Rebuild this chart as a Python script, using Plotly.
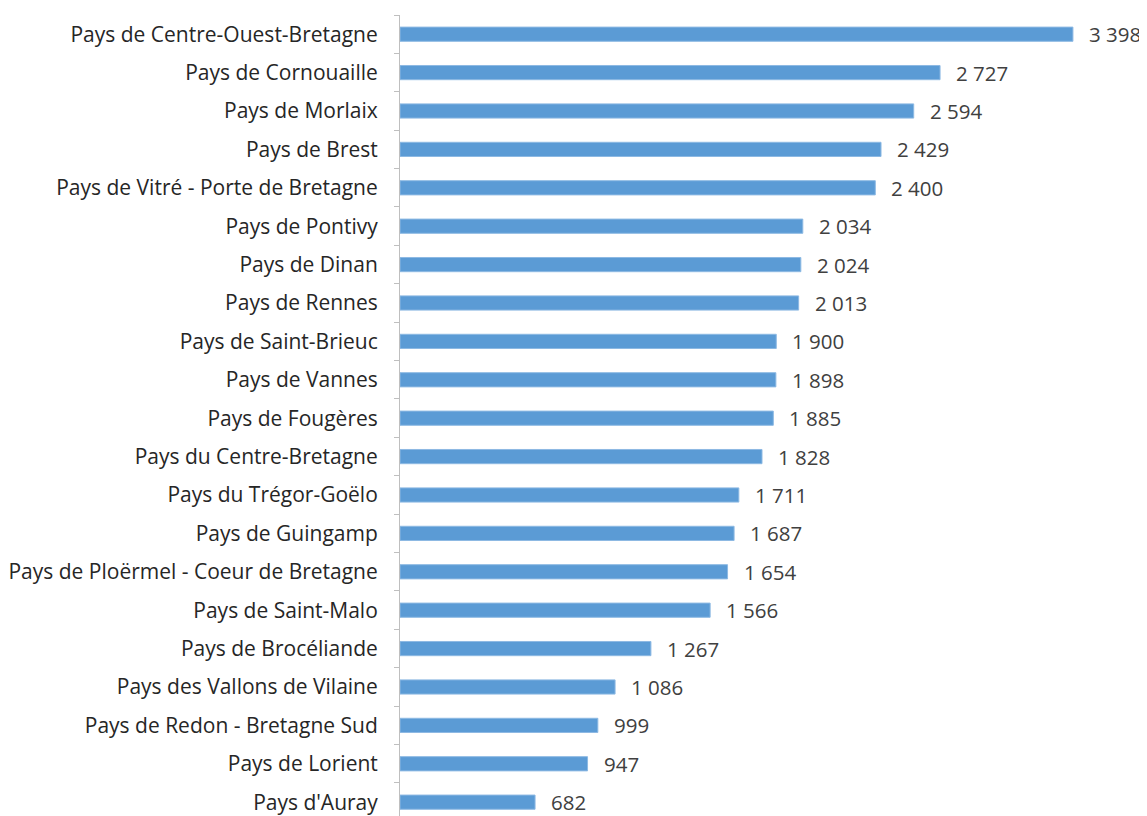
import plotly.graph_objects as go

categories = [
    "Pays de Centre-Ouest-Bretagne", "Pays de Cornouaille", "Pays de Morlaix",
    "Pays de Brest", "Pays de Vitré - Porte de Bretagne", "Pays de Pontivy",
    "Pays de Dinan", "Pays de Rennes", "Pays de Saint-Brieuc", "Pays de Vannes",
    "Pays de Fougères", "Pays du Centre-Bretagne", "Pays du Trégor-Goëlo",
    "Pays de Guingamp", "Pays de Ploërmel - Coeur de Bretagne", "Pays de Saint-Malo",
    "Pays de Brocéliande", "Pays des Vallons de Vilaine", "Pays de Redon - Bretagne Sud",
    "Pays de Lorient", "Pays d'Auray",
]
values = [3398, 2727, 2594, 2429, 2400, 2034, 2024, 2013, 1900, 1898,
          1885, 1828, 1711, 1687, 1654, 1566, 1267, 1086, 999, 947, 682]
value_labels = [f"{v:,}".replace(",", "\u00a0") for v in values]

FONT = "Open Sans"

fig = go.Figure()
fig.add_trace(go.Bar(
    x=values, y=categories, orientation="h",
    marker=dict(color="#5B9BD5", line=dict(color="#8DB9E3", width=1)),
    width=0.37,
    hoverinfo="x+y",
))

for c, v, t in zip(categories, values, value_labels):
    fig.add_annotation(x=v, y=c, text=t, xanchor="left", yanchor="middle",
                       xshift=14, showarrow=False,
                       font=dict(family=FONT, size=20.5, color="#404040"))

fig.update_layout(
    width=1139, height=808,
    margin=dict(l=392, r=0, t=7, b=0, pad=0),
    paper_bgcolor="white", plot_bgcolor="white",
    showlegend=False,
    font=dict(family=FONT, size=21, color="#262626"),
)
fig.update_xaxes(range=[0, 3772], visible=False, automargin=False)
fig.update_yaxes(
    type="category", categoryorder="array", categoryarray=categories,
    range=[20.36, -0.5], automargin=False,
    showline=True, linecolor="#BFBFBF", linewidth=1,
    ticks="outside", ticklen=5, tickcolor="#BFBFBF", tickson="boundaries",
    ticklabelstandoff=17,
    showgrid=False, zeroline=False,
    tickfont=dict(family=FONT, size=21, color="#262626"),
)

fig.write_html("out.html")
